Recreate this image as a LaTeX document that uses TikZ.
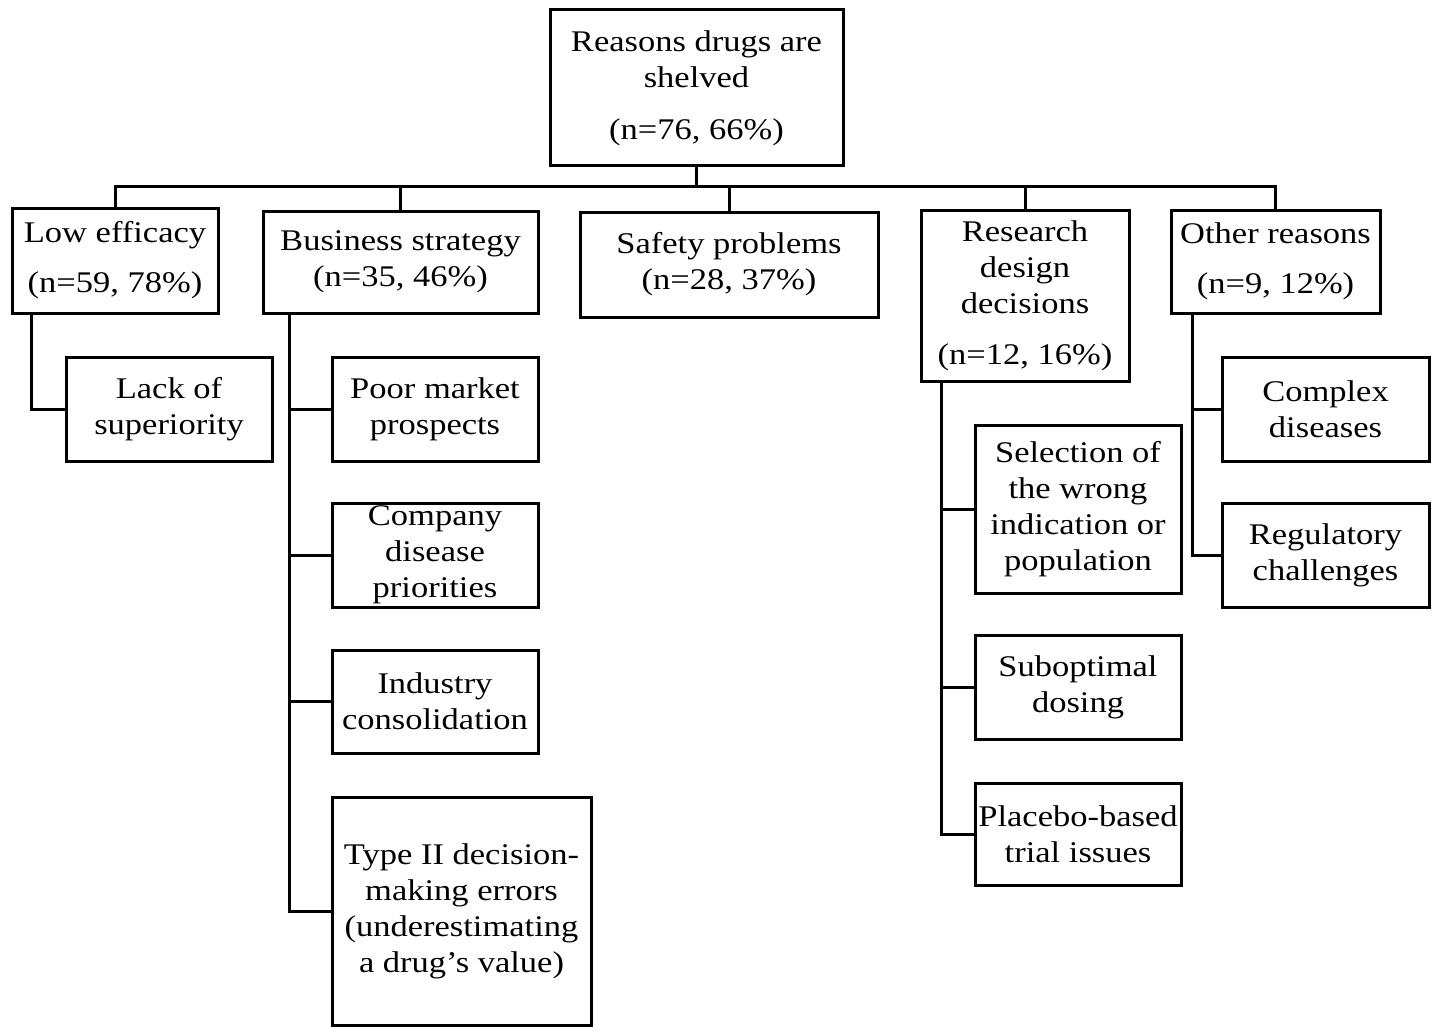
\documentclass[tikz,border=0pt]{standalone}
\usepackage{fontspec}
\setmainfont[FakeStretch=1.15]{Liberation Serif}
\usetikzlibrary{positioning,calc}

\begin{document}
\begin{tikzpicture}[x=1pt,y=-1pt,line width=3pt,
                    box/.style={rectangle,draw,inner sep=0pt,align=center,
                                font=\fontsize{30}{36}\selectfont},
                    link/.style={draw,line cap=rect}
                   ]
  \useasboundingbox (0,0) rectangle (1439,1027);

  \node[box,minimum width=293,minimum height=156] (root) at (696.5,88) {Reasons drugs are\\shelved\\[16pt](n=76, 66\%)};

  \node[box,minimum width=206,minimum height=105] (low) at (115,260.5) {Low efficacy\\[14pt](n=59, 78\%)};
  \node[box,minimum width=275,minimum height=102] (biz) at (400.5,262) {Business strategy\\(n=35, 46\%)};
  \node[box,minimum width=298,minimum height=105] (safe) at (729,264.5) {Safety problems\\(n=28, 37\%)};
  \node[box,minimum width=208,minimum height=171] (res) at (1025,295.5) {Research\\design\\decisions\\[15pt](n=12, 16\%)};
  \node[box,minimum width=209,minimum height=103] (oth) at (1275.5,261.5) {Other reasons\\[14pt](n=9, 12\%)};

  \node[box,minimum width=206,minimum height=104] (lack) at (169,409) {Lack of\\superiority};

  \node[box,minimum width=206,minimum height=104] (poor) at (435,409) {Poor market\\prospects};
  \node[box,minimum width=206,minimum height=104] (comp) at (435,555) {Company\\disease\\priorities};
  \node[box,minimum width=206,minimum height=103] (ind) at (435,701.5) {Industry\\consolidation};
  \node[box,minimum width=259,minimum height=228] (typ) at (461.5,911) {Type II decision-\\making errors\\(underestimating\\a drug’s value)};

  \node[box,minimum width=206,minimum height=168] (sel) at (1078,509) {Selection of\\the wrong\\indication or\\population};
  \node[box,minimum width=206,minimum height=104] (dos) at (1078,687) {Suboptimal\\dosing};
  \node[box,minimum width=206,minimum height=102] (pla) at (1078,834) {Placebo-based\\trial issues};

  \node[box,minimum width=207,minimum height=104] (cpx) at (1325.5,409) {Complex\\diseases};
  \node[box,minimum width=207,minimum height=104] (reg) at (1325.5,555) {Regulatory\\challenges};

  \coordinate (bus) at (0,187);
  \foreach \n in {low,biz,safe,res,oth}
    \path[link] (root.south) -- (root.south |- bus) -| (\n.north);

  \path[link] ([xshift=21]low.south west) |- (lack.west);
  \foreach \n in {poor,comp,ind,typ}
    \path[link] ([xshift=28]biz.south west) |- (\n.west);
  \foreach \n in {sel,dos,pla}
    \path[link] ([xshift=22]res.south west) |- (\n.west);
  \foreach \n in {cpx,reg}
    \path[link] ([xshift=23]oth.south west) |- (\n.west);
\end{tikzpicture}
\end{document}
